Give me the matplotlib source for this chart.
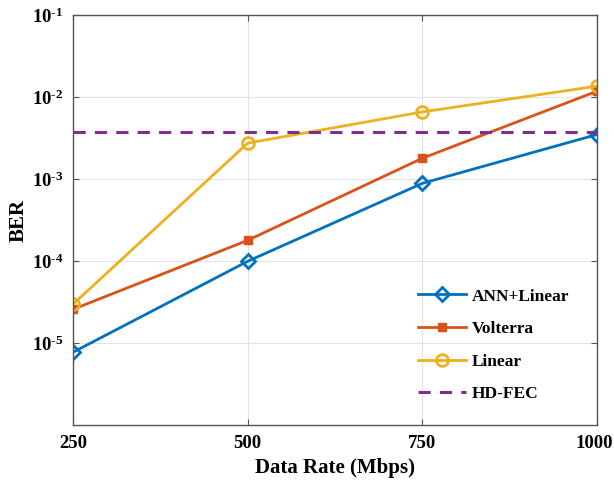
import matplotlib
matplotlib.use("Agg")
import matplotlib.pyplot as plt
import matplotlib.transforms as mtransforms

# Data
data_rate = [250, 500, 750, 1000]
ber_ann_linear = [7.8e-6, 1.0e-4, 8.9e-4, 3.5e-3]
ber_volterra = [2.6e-5, 1.8e-4, 1.8e-3, 1.18e-2]
ber_linear = [3.0e-5, 2.75e-3, 6.6e-3, 1.36e-2]
hd_fec = 3.8e-3

y_ticks = [1e-5, 1e-4, 1e-3, 1e-2, 1e-1]
y_tick_labels = [r"10$^{\text{-}5}$", r"10$^{\text{-}4}$", r"10$^{\text{-}3}$",
                 r"10$^{\text{-}2}$", r"10$^{\text{-}1}$"]

plt.rcParams['font.family'] = ['Liberation Serif', 'DejaVu Serif']
plt.rcParams['font.weight'] = 'bold'
plt.rcParams['mathtext.fontset'] = 'custom'
plt.rcParams['mathtext.rm'] = 'Liberation Serif:bold'
plt.rcParams['mathtext.it'] = 'Liberation Serif:bold'
plt.rcParams['mathtext.bf'] = 'Liberation Serif:bold'

fig = plt.figure(figsize=(6.14, 4.84), dpi=100)
ax = fig.add_axes([0.1189, 0.1209, 0.8534, 0.8481])

ax.plot(data_rate, ber_ann_linear, color='#0072BD', lw=2, marker='D',
        markersize=7.5, markerfacecolor='none', markeredgewidth=2, label='ANN+Linear')
ax.plot(data_rate, ber_volterra, color='#D95319', lw=2, marker='s',
        markersize=6, markerfacecolor='#D95319', label='Volterra')
ax.plot(data_rate, ber_linear, color='#EDB120', lw=2, marker='o',
        markersize=8.5, markerfacecolor='none', markeredgewidth=2, label='Linear')
ax.axhline(hd_fec, color='#7E2F8E', lw=2.2, linestyle=(0, (4, 3)), label='HD-FEC')

ax.set_yscale('log')
ax.set_xlim(250, 1000)
ax.set_ylim(1e-6, 1e-1)
ax.set_xticks(data_rate)
ax.set_yticks(y_ticks)
ax.set_yticklabels(y_tick_labels)
ax.minorticks_off()
ax.tick_params(direction='in', top=True, right=True, labelsize=13.5, length=4,
               color='#555555', pad=7)
for lbl in ax.get_xticklabels() + ax.get_yticklabels():
    lbl.set_fontweight('bold')

# keep the last x label inside the canvas
last = ax.get_xticklabels()[-1]
last.set_transform(last.get_transform() +
                   mtransforms.ScaledTranslation(-3 / 100, 0, fig.dpi_scale_trans))

ax.grid(True, color='#e3e3e3', lw=0.8)
ax.set_axisbelow(True)
for sp in ax.spines.values():
    sp.set_color('#555555')
    sp.set_linewidth(1)

ax.set_xlabel('Data Rate (Mbps)', fontsize=15, fontweight='bold', labelpad=4)
ax.set_ylabel('BER', fontsize=15, fontweight='bold', labelpad=2)

ax.legend(loc='lower right', bbox_to_anchor=(0.976, 0.018), frameon=False,
          prop={'size': 12.5, 'weight': 'bold'}, handlelength=2.75,
          handletextpad=0.3, labelspacing=0.95)

fig.savefig('out.png', dpi=100)
